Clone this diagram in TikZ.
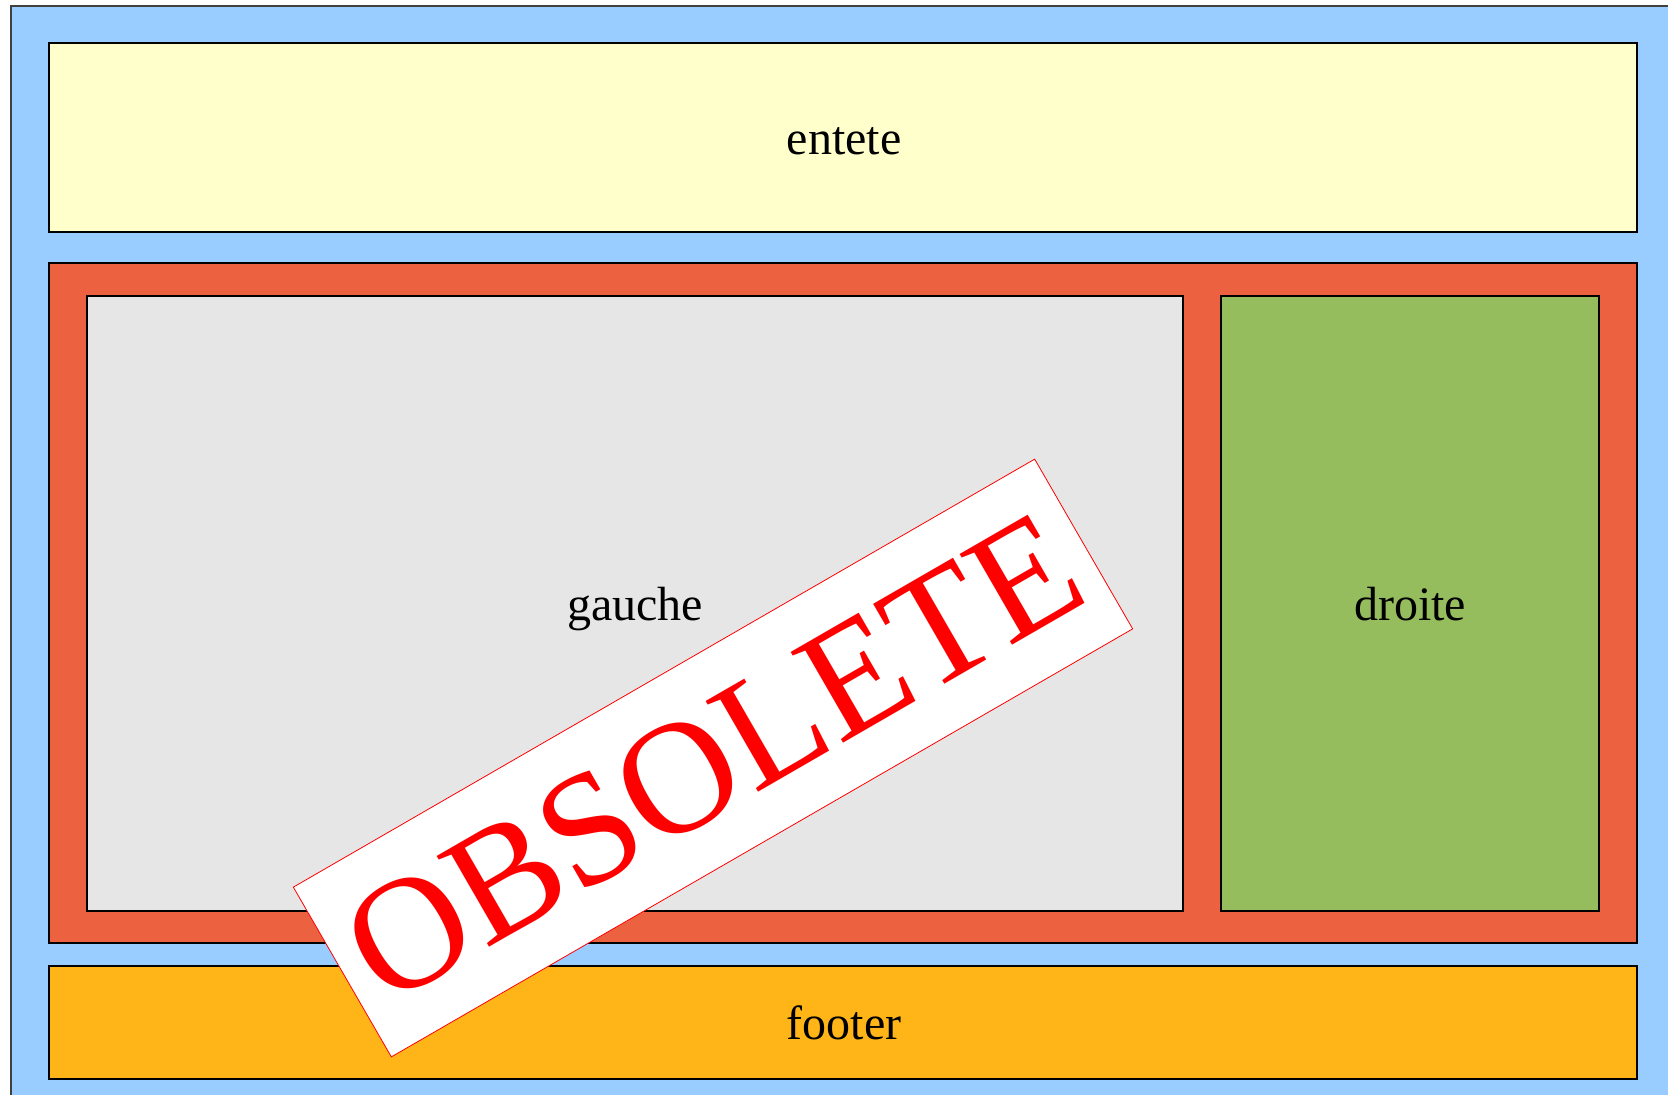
\documentclass[tikz,border=0pt]{standalone}
\usepackage{fontspec}
\setmainfont{Liberation Serif}
\definecolor{fond}{HTML}{99CCFF}
\definecolor{jaune}{HTML}{FFFFCC}
\definecolor{brique}{HTML}{EC6241}
\definecolor{gris}{HTML}{E6E6E6}
\definecolor{vert}{HTML}{95BD5E}
\definecolor{orange}{HTML}{FFB418}

\begin{document}
\begin{tikzpicture}[x=0.5pt, y=-0.5pt,
    zone/.style={draw=black, line width=0.6pt},
    etiquette/.style={font=\fontsize{24}{28}\selectfont}]
    \useasboundingbox (0,0) rectangle (1668,1095);
    % fond et blocs
    \draw [zone, fill=fond, draw=black!75] (11,6) rectangle (1690,1120);
    \draw [zone, fill=jaune] (49,43) rectangle (1637,232);
    \draw [zone, fill=brique] (49,263) rectangle (1637,943);
    \draw [zone, fill=gris] (87,296) rectangle (1183,911);
    \draw [zone, fill=vert] (1221,296) rectangle (1599,911);
    \draw [zone, fill=orange] (49,966) rectangle (1637,1079);
    \node [etiquette] (entete) at (844,141) {entete};
    \node [etiquette] (gauche) at (635,609) {gauche};
    \node [etiquette] (droite) at (1410,604) {droite};
    \node [etiquette] (footer) at (844,1023) {footer};
    % tampon
    \node [rotate=30, draw=red, fill=white, line width=0.4pt, inner sep=0pt,
        minimum width=428pt, minimum height=98pt, text=red,
        font=\fontsize{80}{80}\selectfont] (obsolete) at (713,758) {OBSOLETE};
\end{tikzpicture}
\end{document}
